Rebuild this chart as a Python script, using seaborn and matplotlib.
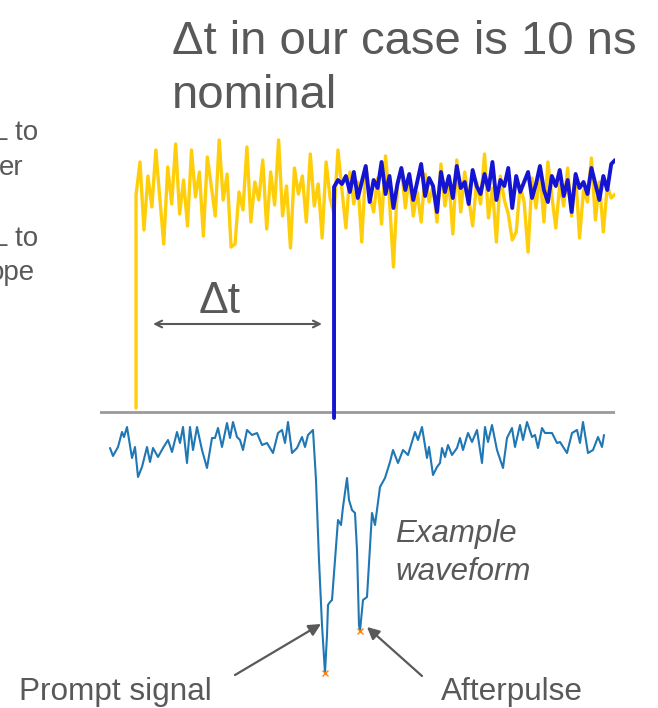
import numpy as np
import matplotlib
matplotlib.use("Agg")
import matplotlib.pyplot as plt
import seaborn as sns

sns.set_style("white")
plt.rcParams["font.family"] = ["Liberation Sans", "DejaVu Sans"]

# ---------------- data ----------------
# Scope traces (time in ns, amplitude in mV), sampled every 0.2 ns after the edge
scope_dt = 0.2
yellow_edge_t = 0.0
yellow_edge_mv = [4, 217]
yellow_mv = [250, 182, 236, 205, 262, 214, 168, 245, 208, 268,
             198, 232, 186, 262, 215, 240, 176, 255, 226, 196,
             272, 212, 238, 165, 168, 220, 202, 265, 190, 230,
             212, 252, 183, 240, 207, 272, 196, 226, 164, 244,
             218, 236, 190, 258, 206, 228, 174, 250, 214, 198,
             262, 222, 184, 240, 208, 230, 170, 246, 216, 200,
             234, 188, 256, 212, 145, 226, 244, 204, 236, 196,
             220, 190, 238, 210, 226, 190, 248, 206, 232, 178,
             252, 200, 240, 214, 186, 230, 208, 258, 194, 224,
             170, 236, 212, 198, 172, 180, 226, 210, 160, 234,
             204, 240, 190, 250, 216, 184, 228, 206, 244, 196,
             238, 174, 222, 210, 254, 192, 230, 180, 226, 214,
             218]
blue_edge_t = 10.0
blue_edge_mv = [-6, 225]
blue_mv = [232, 228, 236, 220, 240, 214, 230, 246, 210, 232,
           224, 250, 218, 236, 204, 228, 244, 222, 238, 212,
           230, 248, 216, 234, 226, 200, 240, 220, 236, 214,
           246, 224, 230, 208, 242, 226, 218, 238, 222, 250,
           212, 232, 226, 244, 204, 236, 220, 230, 240, 214,
           228, 246, 222, 210, 236, 226, 242, 216, 232, 200,
           238, 224, 230, 218, 244, 228, 212, 236, 222, 248,
           252]
delta_t_ns = [0.86, 9.39]

# Example waveform (time in ns, amplitude in mV)
wave_t = [0.0, 0.6, 1.6, 2.4, 2.8, 3.4, 4.4, 5.0, 5.6, 6.4, 7.4, 8.0, 8.6, 9.6,
          10.6, 11.6, 12.4, 13.4, 14.0, 14.6, 15.4, 16.0, 16.6, 17.4, 18.4,
          19.4, 20.4, 21.0, 21.6, 22.4, 23.4, 24.0, 24.6, 25.4, 26.0, 26.6,
          27.4, 28.4, 29.4, 30.4, 31.4, 32.6, 33.6, 34.4, 35.0, 35.6, 36.4,
          37.4, 38.4, 39.0, 39.6, 40.6,
          41.2, 41.8, 42.4, 43.0, 43.4, 43.6, 44.0, 44.4, 45.0, 45.6, 46.2,
          46.6, 47.4, 47.8, 48.4, 49.0, 49.4, 49.8, 50.0, 50.6, 51.4, 52.4,
          53.0, 54.0, 55.0, 56.0, 56.6, 57.6, 58.6, 59.6, 61.0, 61.6, 62.4,
          63.4, 63.8, 64.6, 65.4, 66.0, 66.4, 67.0, 67.6, 68.4, 69.4, 70.0,
          70.6, 71.6, 72.4, 73.4, 74.4, 75.0, 75.6, 76.4, 77.4, 78.6, 79.4,
          80.4, 81.0, 82.0, 82.6, 83.4, 84.4, 85.0, 85.6, 86.4, 87.0, 88.4,
          89.4, 90.0, 91.4, 92.4, 93.4, 94.0, 94.6, 95.6, 96.6, 97.6, 98.4,
          98.8]
wave_mv = [-8, -16, -7, 8, 3, 13, -18, -7, -37, -27, -7, -22, -8, -17,
           -8, 0, -12, 8, -3, 13, -23, 13, -10, 13, -10,
           -28, 2, 2, 12, -7, 17, 2, 18, 3, 0, -10,
           10, 5, 7, -5, -3, -13, 7, 10, -3, 18, -13,
           -8, 3, -7, 5, 10,
           -40, -120, -185, -233, -195, -165, -162, -160, -120, -80, -85,
           -67, -38, -60, -70, -73, -110, -185, -191, -160, -157, -73,
           -85, -47, -38, -22, -10, -23, -10, -15, 8, 0, 13,
           -18, -7, -35, -27, -23, -8, -17, -5, -15, -8, 2,
           -10, 7, -2, 10, -23, 13, -2, 15, -10, -28, 2,
           12, -7, 15, 0, 18, 3, 5, -8, 12, 7, 7,
           -3, -2, -13, 7, 10, -3, 18, -13, -10, 3, -7,
           5]
peak_t = [43.0, 50.0]
peak_mv = [-233, -191]

# ---------------- figure ----------------
W, H = 658, 708
fig = plt.figure(figsize=(W / 100, H / 100), dpi=100)
fig.patch.set_facecolor("white")
TXT = "#595959"


def px_axes(x0, y0, x1, y1):
    """axes from pixel box (top-left origin)"""
    return fig.add_axes([x0 / W, 1 - y1 / H, (x1 - x0) / W, (y1 - y0) / H])


def ftext(x, y, s, **kw):
    fig.text(x / W, 1 - y / H, s, color=TXT, va="baseline", **kw)


# scope panel
ax_s = px_axes(100, 122, 615, 422)
ax_s.set_xlim(-1.82, 24.19)
ax_s.set_ylim(-10, 290)
ax_s.axhline(0, color="#9a9a9a", lw=2.0, zorder=1)

n_y = len(yellow_mv)
y_t = np.r_[[yellow_edge_t] * 2, yellow_edge_t + scope_dt * np.arange(1, n_y + 1)]
y_v = np.r_[yellow_edge_mv, yellow_mv]
sns.lineplot(x=y_t, y=y_v, ax=ax_s, estimator=None, sort=False,
             color="#FFCE0A", lw=2.4, zorder=2)
n_b = len(blue_mv)
b_t = np.r_[[blue_edge_t] * 2, blue_edge_t + scope_dt * np.arange(1, n_b + 1)]
b_v = np.r_[blue_edge_mv, blue_mv]
sns.lineplot(x=b_t, y=b_v, ax=ax_s, estimator=None, sort=False,
             color="#1414D2", lw=2.8, zorder=3)
ax_s.annotate("", xy=(delta_t_ns[1], 88), xytext=(delta_t_ns[0], 88),
              arrowprops=dict(arrowstyle="<->", color=TXT, lw=1.5,
                              shrinkA=0, shrinkB=0, mutation_scale=12))
ax_s.text(4.24, 99, "Δt", color=TXT, fontsize=32, ha="center", va="baseline")
ax_s.set_axis_off()

# waveform panel
ax_w = px_axes(100, 410, 620, 690)
ax_w.set_xlim(-2, 102)
ax_w.set_ylim(-250, 30)
sns.lineplot(x=wave_t, y=wave_mv, ax=ax_w, estimator=None, sort=False,
             color="#1f77b4", lw=1.5)
sns.scatterplot(x=peak_t, y=peak_mv, ax=ax_w, marker="x", s=18,
                color="#ff7f0e", linewidth=1.0, zorder=4)
ax_w.annotate("", xy=(42.2, -184), xytext=(25.0, -235),
              arrowprops=dict(arrowstyle="-|>", color=TXT, lw=1.6,
                              shrinkA=0, shrinkB=0, mutation_scale=18))
ax_w.annotate("", xy=(51.4, -187), xytext=(62.4, -236),
              arrowprops=dict(arrowstyle="-|>", color=TXT, lw=1.6,
                              shrinkA=0, shrinkB=0, mutation_scale=18))
ax_w.set_axis_off()

# texts
ftext(172, 54, "Δt in our case is 10 ns", fontsize=34)
ftext(172, 108, "nominal", fontsize=34)
ftext(-7, 140, "L to", fontsize=20)
ftext(-1, 175, "er", fontsize=20)
ftext(-7, 246, "L to", fontsize=20)
ftext(-11, 280, "ope", fontsize=20)
ftext(395, 542, "Example", fontsize=22.5, style="italic")
ftext(395, 580, "waveform", fontsize=22.5, style="italic")
ftext(19, 700, "Prompt signal", fontsize=22.7)
ftext(441, 700, "Afterpulse", fontsize=22.7)

fig.savefig("out.png", dpi=100, facecolor="white")
